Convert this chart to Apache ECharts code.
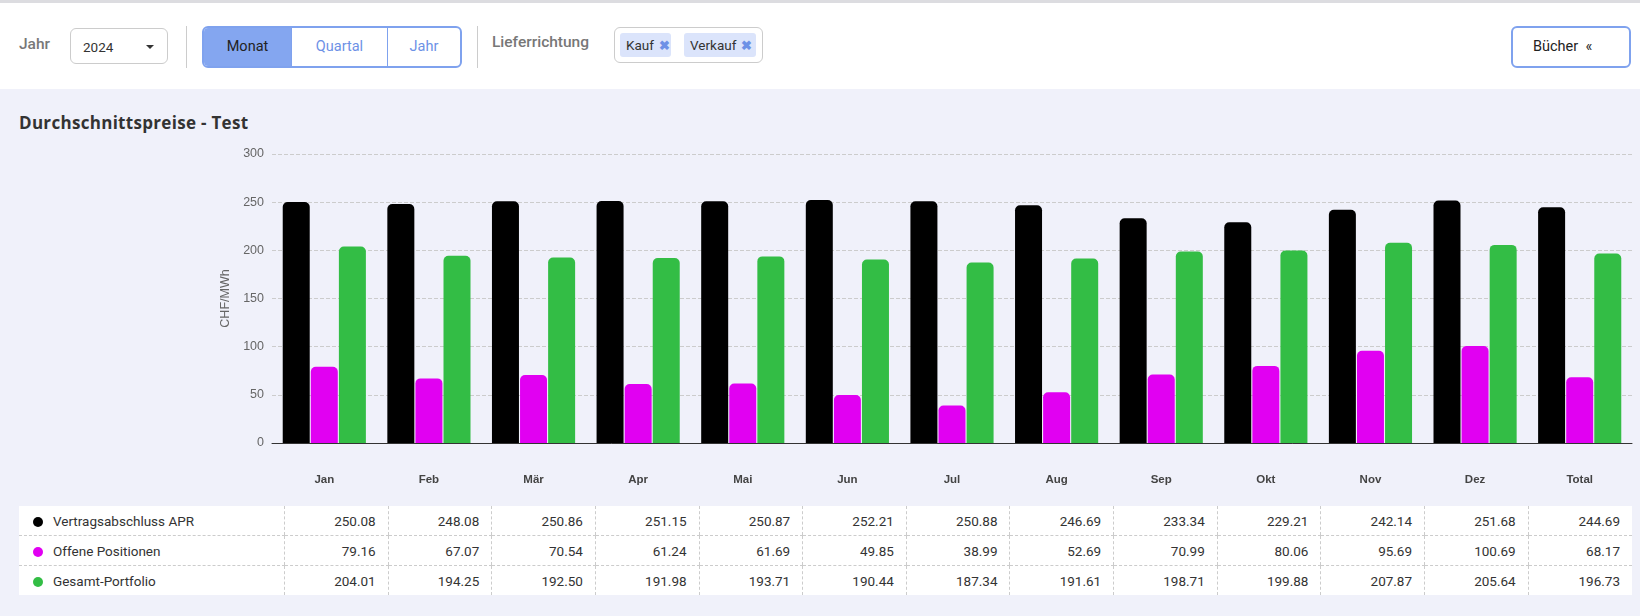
<!DOCTYPE html>
<html>
<head>
<meta charset="utf-8">
<script src="https://cdn.jsdelivr.net/npm/echarts@6/dist/echarts.min.js"></script>
<style>
  body { margin: 0; width: 1640px; height: 616px; background: #f0f1fa; font-family: Roboto, "Noto Sans", sans-serif; overflow: hidden; position: relative; }
  .bar { position: absolute; left: 0; top: 0; width: 1640px; height: 89px; background: #fff; border-top: 3px solid #dcdce0; box-sizing: border-box; }
  .lbl { position: absolute; font-size: 15.5px; color: #777; font-weight: 500; }
  .sel { position: absolute; left: 70px; top: 25px; width: 98px; height: 36px; border: 1px solid #ccc; border-radius: 6px; box-sizing: border-box; font-size: 13.5px; color: #333; padding: 10px 0 0 12px; }
  .sel:after { content: ""; position: absolute; right: 13px; top: 16px; border: 4px solid transparent; border-top-color: #333; }
  .vsep { position: absolute; top: 23px; width: 1px; height: 42px; background: #ccc; }
  .seg { position: absolute; left: 202px; top: 23px; height: 42px; display: flex; border: 2px solid #7fa2ee; border-radius: 6px; box-sizing: border-box; overflow: hidden; }
  .seg div { height: 38px; line-height: 38px; font-size: 14.5px; color: #6d91e6; text-align: center; border-left: 1px solid #7fa2ee; }
  .tags { position: absolute; left: 614px; top: 24px; width: 149px; height: 36px; border: 1px solid #ccc; border-radius: 6px; box-sizing: border-box; }
  .tag { position: absolute; top: 5px; height: 24px; line-height: 24px; background: #dbe4fb; border-radius: 3px; font-size: 13.5px; color: #333; padding-left: 6px; }
  .tag b { color: #6d91e6; margin-left: 5px; font-size: 13px; }
  .btn { position: absolute; left: 1511px; top: 23px; width: 120px; height: 42px; border: 2px solid #7fa2ee; border-radius: 6px; box-sizing: border-box; font-size: 14.5px; color: #222; line-height: 38px; padding-left: 20px; }
  .title { position: absolute; left: 19px; top: 111px; font-size: 17px; font-weight: bold; color: #333; font-family: "Open Sans", sans-serif; letter-spacing: 0.3px; }
  #chart { position: absolute; left: 0; top: 136px; width: 1640px; height: 360px; }
  table { position: absolute; left: 19px; top: 506px; width: 1613px; border-collapse: collapse; background: #fff; font-size: 13.5px; color: #333; table-layout: fixed; }
  td { height: 29px; padding: 0 12px; text-align: right; border-left: 1px dashed #ccc; border-bottom: 1px dashed #ccc; }
  td:first-child { text-align: left; border-left: none; width: 239px; padding-left: 14px; }
  tr:last-child td { border-bottom: none; }
  .dot { display: inline-block; width: 10px; height: 10px; border-radius: 50%; margin-right: 10px; vertical-align: -1px; }
</style>
</head>
<body>
<div class="bar">
  <div class="lbl" style="left:19px;top:32px">Jahr</div>
  <div class="sel">2024</div>
  <div class="vsep" style="left:186px"></div>
  <div class="seg">
    <div style="width:87px;background:#84a6f0;color:#222;border-left:none">Monat</div>
    <div style="width:95px">Quartal</div>
    <div style="width:72px">Jahr</div>
  </div>
  <div class="vsep" style="left:477px"></div>
  <div class="lbl" style="left:492px;top:30px">Lieferrichtung</div>
  <div class="tags">
    <div class="tag" style="left:5px;width:45px">Kauf<b>✖</b></div>
    <div class="tag" style="left:69px;width:66px">Verkauf<b>✖</b></div>
  </div>
  <div class="btn">Bücher &nbsp;«</div>
</div>
<div class="title">Durchschnittspreise - Test</div>
<div id="chart"></div>
<table id="tbl"></table>
<script>
const categories = ['Jan', 'Feb', 'Mär', 'Apr', 'Mai', 'Jun', 'Jul', 'Aug', 'Sep', 'Okt', 'Nov', 'Dez', 'Total'];
const vertrag = [250.08, 248.08, 250.86, 251.15, 250.87, 252.21, 250.88, 246.69, 233.34, 229.21, 242.14, 251.68, 244.69];
const offen = [79.16, 67.07, 70.54, 61.24, 61.69, 49.85, 38.99, 52.69, 70.99, 80.06, 95.69, 100.69, 68.17];
const gesamt = [204.01, 194.25, 192.50, 191.98, 193.71, 190.44, 187.34, 191.61, 198.71, 199.88, 207.87, 205.64, 196.73];
const seriesDefs = [
  { name: 'Vertragsabschluss APR', data: vertrag, color: '#000000' },
  { name: 'Offene Positionen', data: offen, color: '#e100f2' },
  { name: 'Gesamt-Portfolio', data: gesamt, color: '#33bd45' }
];

const chart = echarts.init(document.getElementById('chart'));
chart.setOption({
  animation: false,
  grid: { left: 272, right: 8, top: 18, bottom: 53 },
  xAxis: {
    type: 'category', data: categories,
    axisTick: { show: false },
    axisLine: { lineStyle: { color: '#333' } },
    axisLabel: { margin: 31, fontSize: 11.5, fontWeight: 'bold', color: '#444' }
  },
  yAxis: {
    type: 'value', min: 0, max: 300, interval: 50,
    name: 'CHF/MWh', nameLocation: 'middle', nameGap: 34, nameRotate: 90,
    nameTextStyle: { color: '#666', fontSize: 12.5 },
    axisLabel: { color: '#666', fontSize: 12.5 },
    splitLine: { lineStyle: { type: 'dashed', color: '#ccc' } }
  },
  series: seriesDefs.map(s => ({
    type: 'bar', name: s.name, data: s.data, barWidth: 27, barGap: '4%',
    itemStyle: { color: s.color, borderRadius: [5, 5, 0, 0] }
  }))
});

const tbl = document.getElementById('tbl');
tbl.innerHTML = seriesDefs.map(s =>
  '<tr><td><span class="dot" style="background:' + s.color + '"></span>' + s.name + '</td>' +
  s.data.map(v => '<td>' + v.toFixed(2) + '</td>').join('') + '</tr>'
).join('');
</script>
</body>
</html>
